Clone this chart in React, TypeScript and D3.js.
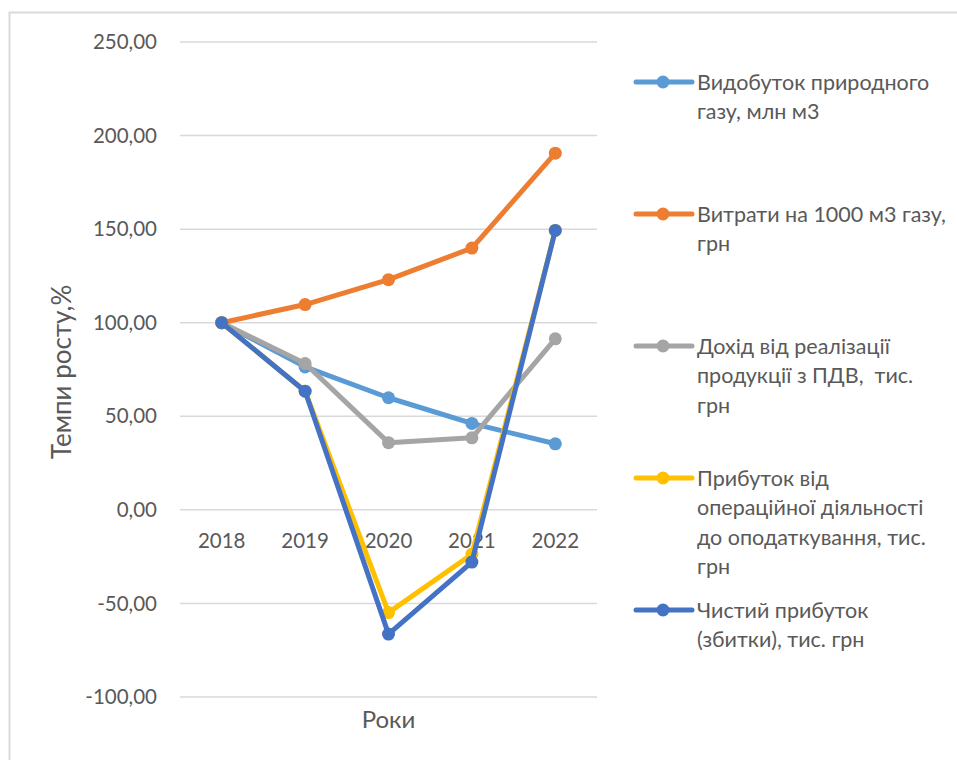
import React from "react";
import * as d3 from "d3";

const years = ["2018", "2019", "2020", "2021", "2022"];

const gasOutput = [100, 76.4, 59.9, 46.2, 35.3];
const costPer1000 = [100, 109.7, 123.0, 139.9, 190.6];
const salesIncome = [100, 78.2, 35.9, 38.5, 91.4];
const operatingProfit = [100, 63.4, -54.9, -23.7, 149.3];
const netProfit = [100, 63.4, -66.4, -27.9, 149.3];

const yTicks = [-100, -50, 0, 50, 100, 150, 200, 250];

const seriesNames = [
  ["Видобуток природного", "газу, млн м3"],
  ["Витрати на 1000 м3 газу,", "грн"],
  ["Дохід від реалізації", "продукції з ПДВ,  тис.", "грн"],
  ["Прибуток від", "операційної діяльності", "до оподаткування, тис.", "грн"],
  ["Чистий прибуток", "(збитки), тис. грн"],
];

const seriesColors = ["#5B9BD5", "#ED7D31", "#A5A5A5", "#FFC000", "#4472C4"];

const seriesValues = [gasOutput, costPer1000, salesIncome, operatingProfit, netProfit];

const W = 957;
const H = 760;
const plot = { left: 180, right: 597, top: 42, bottom: 697 };
const FONT = "Lato, 'Open Sans', sans-serif";
const TEXT = "#595959";

const fmtTick = (t: number) => d3.format(".2f")(t).replace(".", ",").replace("\u2212", "-");

export default function App() {
  const x = d3
    .scaleBand<string>()
    .domain(years)
    .range([plot.left, plot.right]);
  const y = d3
    .scaleLinear()
    .domain([-100, 250])
    .range([plot.bottom, plot.top]);
  const cx = (yr: string) => (x(yr) ?? 0) + x.bandwidth() / 2;

  const line = d3
    .line<number>()
    .x((_, i) => cx(years[i]))
    .y((v) => y(v));

  const legendX = 636;
  const legendTop = 82;
  const legendStep = 132;
  const lineH = 29.5;

  return (
    <svg
      width={W}
      height={H}
      style={{ position: "absolute", left: 0, top: 0, background: "#fff" }}
      fontFamily={FONT}
    >
      <rect x={9.5} y={12.5} width={W + 10} height={H + 10} fill="#fff" stroke="#D9D9D9" strokeWidth={2} />

      {/* gridlines and value axis labels */}
      {yTicks.map((t) => (
        <g key={t}>
          <line x1={plot.left} x2={plot.right} y1={y(t)} y2={y(t)} stroke="#D9D9D9" strokeWidth={1.5} />
          <text x={157} y={y(t)} dy="0.35em" textAnchor="end" fontSize={20.5} fill={TEXT}>
            {fmtTick(t)}
          </text>
        </g>
      ))}

      {/* category labels */}
      {years.map((yr) => (
        <text key={yr} x={cx(yr)} y={541} dy="0.35em" textAnchor="middle" fontSize={20.5} fill={TEXT}>
          {yr}
        </text>
      ))}

      {/* series */}
      {seriesValues.map((vals, si) => (
        <g key={si}>
          <path d={line(vals) ?? ""} fill="none" stroke={seriesColors[si]} strokeWidth={5} strokeLinejoin="round" strokeLinecap="round" />
          {vals.map((v, i) => (
            <circle key={i} cx={cx(years[i])} cy={y(v)} r={6.5} fill={seriesColors[si]} />
          ))}
        </g>
      ))}

      {/* axis titles */}
      <text x={(plot.left + plot.right) / 2} y={720} dy="0.35em" textAnchor="middle" fontSize={24} fill={TEXT}>
        Роки
      </text>
      <text
        transform={`translate(62, ${372}) rotate(-90)`}
        dy="0.35em"
        textAnchor="middle"
        fontSize={26}
        fill={TEXT}
      >
        Темпи росту,%
      </text>

      {/* legend */}
      {seriesNames.map((lines, si) => {
        const ly = legendTop + si * legendStep;
        return (
          <g key={si}>
            <line x1={legendX} x2={legendX + 56} y1={ly} y2={ly} stroke={seriesColors[si]} strokeWidth={5} strokeLinecap="round" />
            <circle cx={legendX + 27} cy={ly} r={6.5} fill={seriesColors[si]} />
            {lines.map((s, li) => (
              <text key={li} x={697} y={ly + li * lineH} dy="0.35em" fontSize={21.5} fill={TEXT} style={{ whiteSpace: "pre" }}>
                {s}
              </text>
            ))}
          </g>
        );
      })}
    </svg>
  );
}
